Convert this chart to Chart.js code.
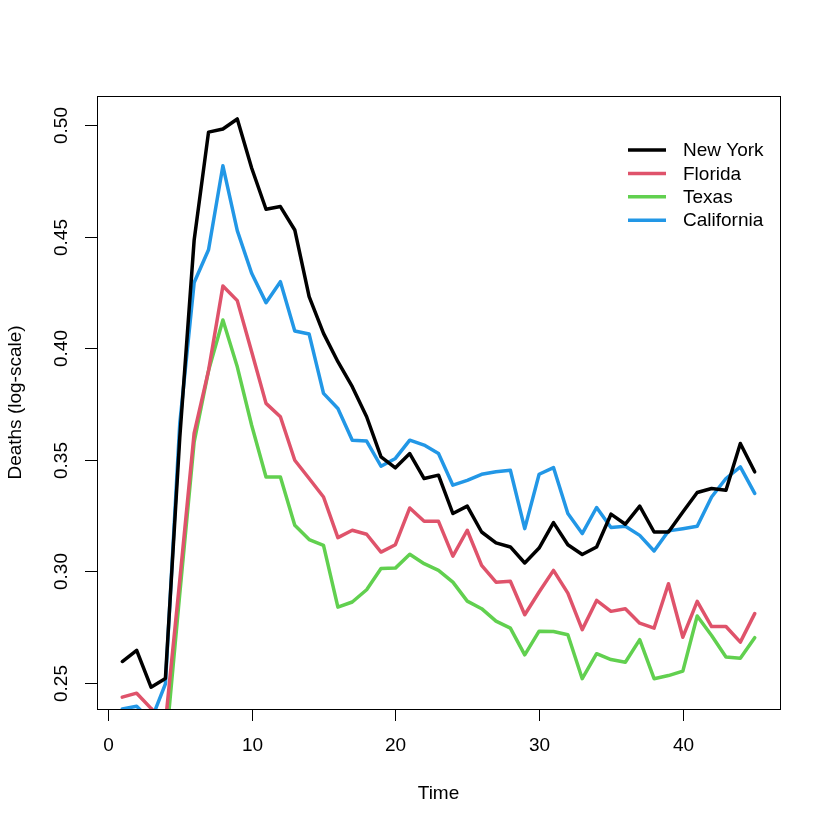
<!DOCTYPE html>
<html>
<head>
<meta charset="utf-8">
<script src="https://cdn.jsdelivr.net/npm/chart.js@4/dist/chart.umd.min.js"></script>
<style>
  body { margin: 0; background: #fff; }
  canvas { display: block; }
</style>
</head>
<body>
<canvas id="chart" width="830" height="830"></canvas>
<script>
// datos (escala log)
const time = [1, 2, 3, 4, 5, 6, 7, 8, 9, 10, 11, 12, 13, 14, 15, 16, 17, 18, 19, 20, 21, 22, 23,
  24, 25, 26, 27, 28, 29, 30, 31, 32, 33, 34, 35, 36, 37, 38, 39, 40, 41, 42, 43, 44, 45];

const newYork = [0.2595, 0.2645, 0.248, 0.2519, 0.36, 0.4486, 0.497, 0.4984, 0.5029, 0.4809,
  0.4624, 0.4636, 0.4531, 0.4232, 0.4067, 0.394, 0.3828, 0.3693, 0.3513, 0.3464, 0.3528,
  0.3416, 0.3431, 0.3259, 0.3292, 0.3176, 0.3127, 0.3109, 0.3037, 0.3104, 0.3218, 0.3119,
  0.3075, 0.3109, 0.3256, 0.3211, 0.3292, 0.3176, 0.3176, 0.3266, 0.3353, 0.3371, 0.3363,
  0.3573, 0.3446];

const florida = [0.2435, 0.2453, 0.2385, 0.232, 0.296, 0.362, 0.39, 0.428, 0.4214, 0.3985,
  0.3753, 0.3693, 0.3498, 0.3416, 0.3333, 0.3151, 0.3184, 0.3166, 0.3086, 0.3119, 0.3284,
  0.3224, 0.3224, 0.3068, 0.3184, 0.3026, 0.2951, 0.2955, 0.2805, 0.2907, 0.3004, 0.2902,
  0.2738, 0.2869, 0.282, 0.2832, 0.2767, 0.2745, 0.2944, 0.2704, 0.2865, 0.2752, 0.2752,
  0.2682, 0.281];

const texas = [0.232, 0.234, 0.228, 0.22, 0.29, 0.358, 0.39, 0.4127, 0.3917, 0.3655,
  0.3423, 0.3423, 0.3206, 0.3142, 0.3116, 0.2839, 0.2862, 0.2917, 0.3012, 0.3014, 0.3076,
  0.3034, 0.3004, 0.2951, 0.2866, 0.2832, 0.2776, 0.2745, 0.2625, 0.2731, 0.273, 0.2715,
  0.2518, 0.263, 0.2604, 0.2592, 0.2693, 0.2518, 0.2532, 0.2552, 0.2799, 0.2712, 0.2615,
  0.261, 0.2702];

const california = [0.2382, 0.2394, 0.233, 0.2495, 0.3663, 0.4295, 0.4442, 0.4819, 0.4528,
  0.4337, 0.4205, 0.4299, 0.4078, 0.4064, 0.3798, 0.373, 0.3588, 0.3584, 0.3471, 0.3506,
  0.3588, 0.3566, 0.3528, 0.3386, 0.3408, 0.3435, 0.3446, 0.3453, 0.3191, 0.3435, 0.3465,
  0.3259, 0.3169, 0.3286, 0.3196, 0.3202, 0.3161, 0.3091, 0.3181, 0.3191, 0.3202, 0.3333,
  0.3416, 0.3468, 0.3349];

const xTicks = [0, 10, 20, 30, 40];
const yTicks = [0.25, 0.30, 0.35, 0.40, 0.45, 0.50];

const seriesNames = ['New York', 'Florida', 'Texas', 'California'];
const seriesColors = ['#000000', '#DF536B', '#61D04F', '#2297E6'];
const seriesData = [newYork, florida, texas, california];

const FONT = '19px "Liberation Sans", Arial, sans-serif';

// ejes, marco y leyenda al estilo de R
const baseGraphics = {
  id: 'baseGraphics',
  afterDraw(chart) {
    const ctx = chart.ctx;
    const a = chart.chartArea;
    const xs = chart.scales.x;
    const ys = chart.scales.y;
    ctx.save();
    ctx.strokeStyle = '#000';
    ctx.lineWidth = 1;
    ctx.strokeRect(Math.round(a.left) + 0.5, Math.round(a.top) + 0.5,
      Math.round(a.right - a.left), Math.round(a.bottom - a.top));

    ctx.fillStyle = '#000';
    ctx.font = FONT;

    // eje x
    ctx.textAlign = 'center';
    ctx.textBaseline = 'middle';
    xTicks.forEach(t => {
      const px = Math.round(xs.getPixelForValue(t)) + 0.5;
      ctx.beginPath();
      ctx.moveTo(px, a.bottom);
      ctx.lineTo(px, a.bottom + 12);
      ctx.stroke();
      ctx.fillText(String(t), px, a.bottom + 37);
    });
    ctx.fillText('Time', (a.left + a.right) / 2, a.bottom + 85);

    // eje y (etiquetas verticales)
    yTicks.forEach(t => {
      const py = Math.round(ys.getPixelForValue(t)) + 0.5;
      ctx.beginPath();
      ctx.moveTo(a.left, py);
      ctx.lineTo(a.left - 12, py);
      ctx.stroke();
      ctx.save();
      ctx.translate(a.left - 35, py);
      ctx.rotate(-Math.PI / 2);
      ctx.fillText(t.toFixed(2), 0, 0);
      ctx.restore();
    });
    ctx.save();
    ctx.translate(16, (a.top + a.bottom) / 2);
    ctx.rotate(-Math.PI / 2);
    ctx.fillText('Deaths (log-scale)', 0, 0);
    ctx.restore();

    // leyenda
    ctx.textAlign = 'left';
    ctx.lineWidth = 3.5;
    seriesNames.forEach((name, i) => {
      const y = 150 + i * 23.4;
      ctx.strokeStyle = seriesColors[i];
      ctx.beginPath();
      ctx.moveTo(628, y);
      ctx.lineTo(666, y);
      ctx.stroke();
      ctx.fillText(name, 683, y + 1);
    });
    ctx.restore();
  }
};

new Chart(document.getElementById('chart'), {
  type: 'line',
  data: {
    datasets: seriesNames.map((name, i) => ({
      label: name,
      data: time.map((t, j) => ({ x: t, y: seriesData[i][j] })),
      borderColor: seriesColors[i],
      backgroundColor: seriesColors[i],
      borderWidth: 3.5,
      borderCapStyle: 'round',
      borderJoinStyle: 'round',
      pointRadius: 0,
      tension: 0,
      clip: 0,
    })),
  },
  options: {
    responsive: false,
    animation: false,
    layout: { padding: { left: 97, right: 50, top: 96, bottom: 121 } },
    plugins: { legend: { display: false }, tooltip: { enabled: false } },
    scales: {
      x: { type: 'linear', min: -0.76, max: 46.76, display: false },
      y: { type: 'linear', min: 0.2382, max: 0.5132, display: false },
    },
  },
  plugins: [baseGraphics],
});
</script>
</body>
</html>
